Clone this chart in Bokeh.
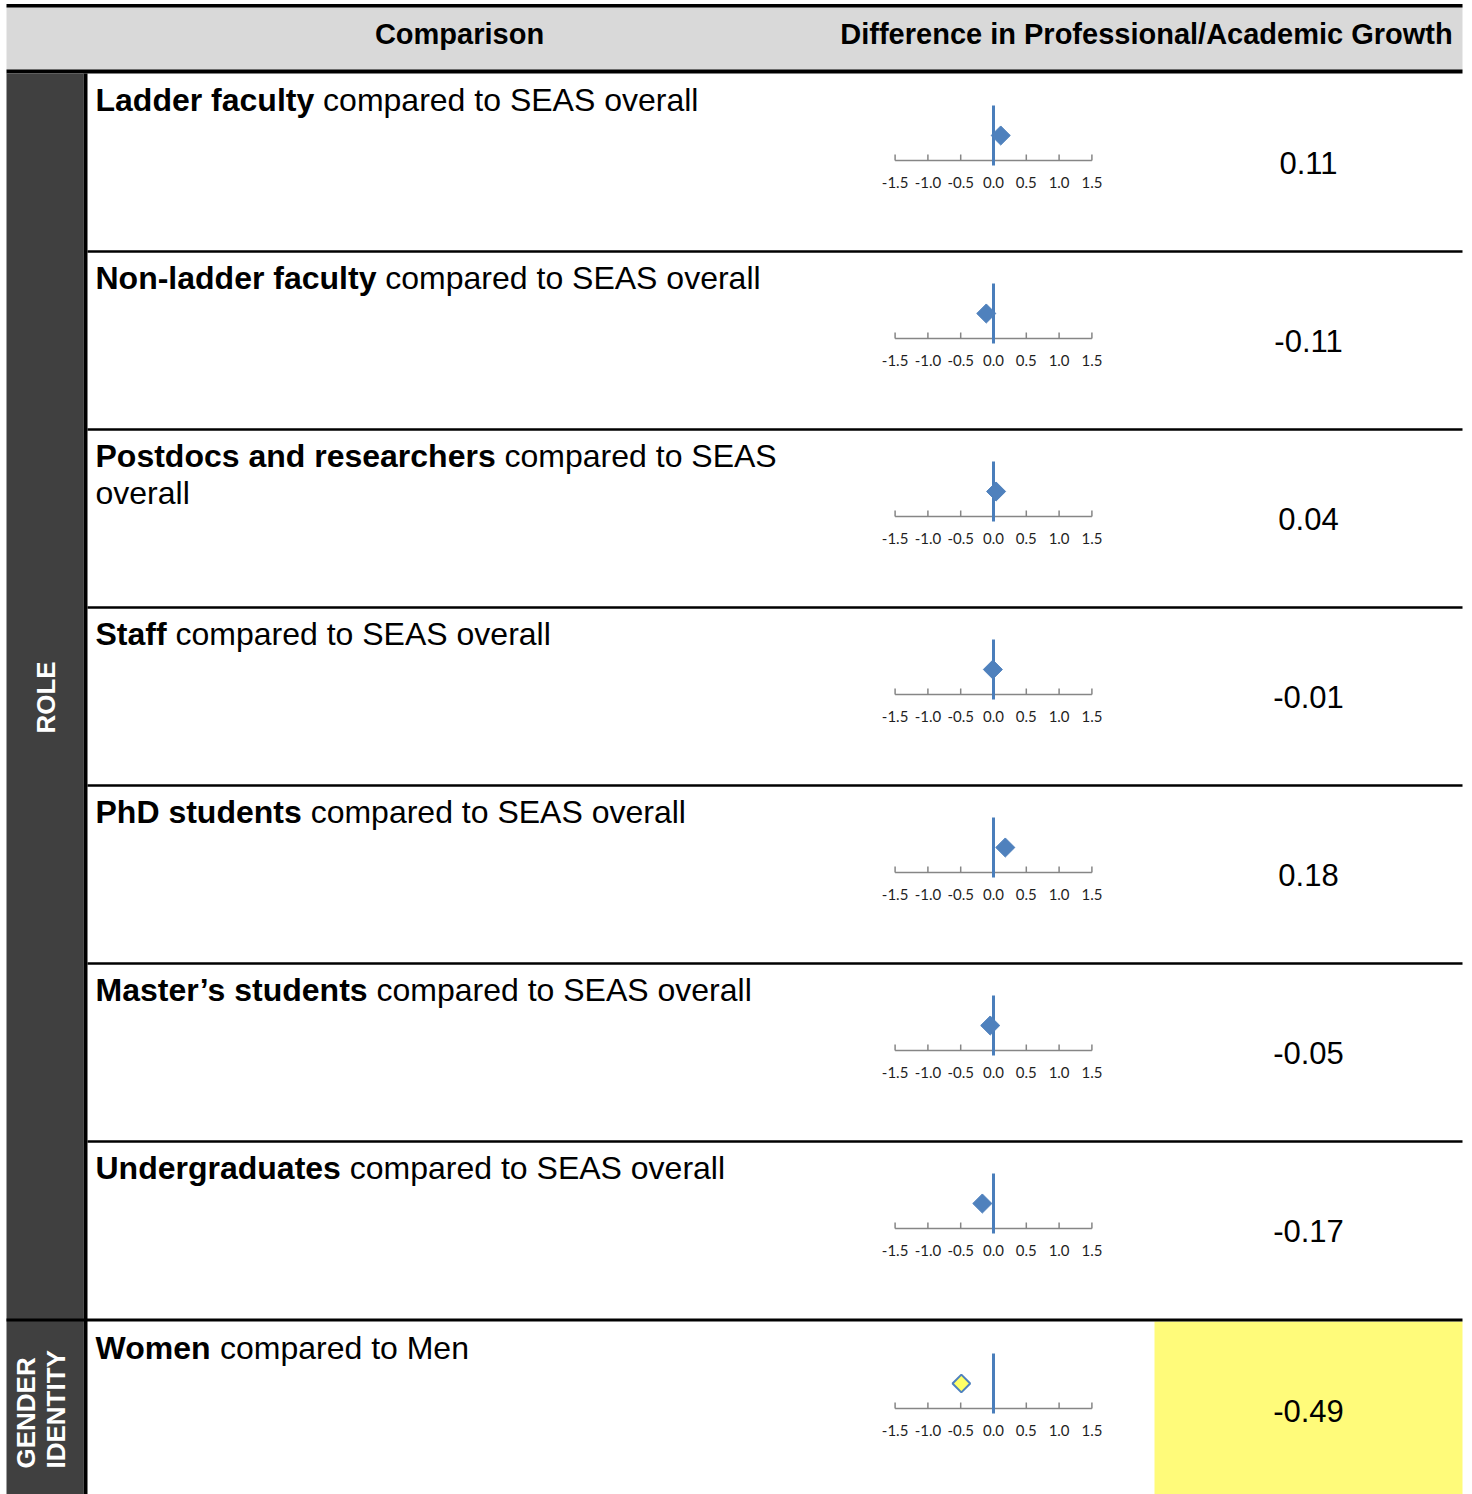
import math
from bokeh.plotting import figure
from bokeh.models import Range1d, ColumnDataSource
from bokeh.embed import file_html
from bokeh.resources import INLINE
from bokeh.core.properties import value

# ---------------- data ----------------
header_left = "Comparison"
header_right = "Difference in Professional/Academic Growth"
bold_labels = ["Ladder faculty", "Non-ladder faculty", "Postdocs and researchers",
               "Staff", "PhD students", "Master\u2019s students", "Undergraduates", "Women"]
rest_labels = ["compared to SEAS overall", "compared to SEAS overall", "compared to SEAS",
               "compared to SEAS overall", "compared to SEAS overall",
               "compared to SEAS overall", "compared to SEAS overall", "compared to Men"]
second_lines = ["", "", "overall", "", "", "", "", ""]
differences = [0.11, -0.11, 0.04, -0.01, 0.18, -0.05, -0.17, -0.49]
highlighted = [False, False, False, False, False, False, False, True]
group_names = ["ROLE", "GENDER\nIDENTITY"]
group_sizes = [7, 1]
tick_values = [-1.5, -1.0, -0.5, 0.0, 0.5, 1.0, 1.5]
tick_labels = ["-1.5", "-1.0", "-0.5", "0.0", "0.5", "1.0", "1.5"]

# ---------------- layout constants ----------------
W, H = 1472, 1494
X0, Y0 = 0, 0
LEFT, RIGHT = 6, 1462
ROW_TOPS = [73, 251, 429, 607, 785, 963, 1141, 1321]
ROW_BOTTOM = 1494
ZERO_X = 993.0
PX_PER_UNIT = 65.6
LABEL_X = 95
LABEL_FS = 32
VALUE_X = 1308
FONT = "Liberation Sans"

# Arial/Liberation Sans Bold advance widths (1/1000 em)
BOLD_W = {" ": 278, "-": 333, "\u2019": 278, "A": 722, "D": 722, "L": 611, "M": 833,
          "N": 722, "P": 667, "S": 667, "U": 722, "W": 944,
          "a": 556, "b": 611, "c": 556, "d": 611, "e": 556, "f": 333, "g": 611,
          "h": 611, "i": 278, "k": 556, "l": 278, "m": 889, "n": 611, "o": 611,
          "p": 611, "r": 389, "s": 556, "t": 333, "u": 611, "w": 778, "y": 556}


def bold_width(s, fs):
    return sum(BOLD_W.get(c, 600) for c in s) * fs / 1000.0


p = figure(width=W, height=H, x_range=Range1d(X0, X0 + W), y_range=Range1d(Y0 + H, Y0),
           output_backend="svg", toolbar_location=None, min_border=0,
           x_axis_type=None, y_axis_type=None, outline_line_color=None)
p.background_fill_color = "white"
p.border_fill_color = "white"
p.extra_x_ranges = {"diff": Range1d(start=(X0 - ZERO_X) / PX_PER_UNIT,
                                    end=(X0 + W - ZERO_X) / PX_PER_UNIT)}

# ---------------- header ----------------
p.quad(left=LEFT, right=RIGHT, top=6, bottom=70, fill_color="#D9D9D9", line_color=None)
p.quad(left=LEFT, right=RIGHT, top=3.5, bottom=7, fill_color="black", line_color=None)
p.quad(left=LEFT, right=RIGHT, top=69, bottom=73, fill_color="black", line_color=None)
p.text(x=[459, 1146], y=[33.5, 33.5], text=[header_left, header_right],
       text_font=value(FONT), text_font_size="29px", text_font_style="bold",
       text_align="center", text_baseline="middle", text_color="black")

# ---------------- highlighted value cells ----------------
n = len(differences)
row_bottoms = ROW_TOPS[1:] + [ROW_BOTTOM]
hl = [i for i in range(n) if highlighted[i]]
p.quad(left=[1154] * len(hl), right=[RIGHT] * len(hl),
       top=[ROW_TOPS[i] for i in hl], bottom=[row_bottoms[i] for i in hl],
       fill_color="#FFFB7A", line_color=None)

# ---------------- group column ----------------
p.quad(left=LEFT, right=83, top=73, bottom=ROW_BOTTOM, fill_color="#404040", line_color=None)
p.quad(left=83, right=87, top=73, bottom=ROW_BOTTOM, fill_color="black", line_color=None)

# row separators
start = 0
sep_thin = []
sep_group = []
for gi, gs in enumerate(group_sizes):
    for k in range(gs):
        i = start + k
        if i == 0:
            continue
        if k == 0:
            sep_group.append(ROW_TOPS[i])
        else:
            sep_thin.append(ROW_TOPS[i])
    start += gs
p.quad(left=[87] * len(sep_thin), right=[RIGHT] * len(sep_thin),
       top=[y - 1.3 for y in sep_thin], bottom=[y + 1.3 for y in sep_thin],
       fill_color="black", line_color=None)
p.quad(left=[LEFT] * len(sep_group), right=[RIGHT] * len(sep_group),
       top=[y - 3 for y in sep_group], bottom=[y for y in sep_group],
       fill_color="black", line_color=None)

# group labels (rotated)
start = 0
for gi, gs in enumerate(group_sizes):
    top = ROW_TOPS[start] if start > 0 else 73
    bot = row_bottoms[start + gs - 1]
    lines = group_names[gi].split("\n")
    if len(lines) == 1:
        p.text(x=[45], y=[(top + bot) / 2], text=lines, angle=math.pi / 2,
               text_font=value(FONT), text_font_size="26px", text_font_style="bold",
               text_color="white", text_align="center", text_baseline="middle")
    else:
        xs = [25 + 30 * j for j in range(len(lines))]
        p.text(x=xs, y=[1468] * len(lines), text=lines, angle=math.pi / 2,
               text_font=value(FONT), text_font_size="26px", text_font_style="bold",
               text_color="white", text_align="left", text_baseline="middle")
    start += gs

# ---------------- row labels ----------------
base = [t + 26.5 for t in ROW_TOPS]
p.text(x=[LABEL_X] * n, y=base, text=bold_labels, text_font=value(FONT),
       text_font_size=f"{LABEL_FS}px", text_font_style="bold", text_color="black",
       text_align="left", text_baseline="alphabetic")
rest_x = [LABEL_X + bold_width(b + " ", LABEL_FS) for b in bold_labels]
p.text(x=rest_x, y=base, text=rest_labels, text_font=value(FONT),
       text_font_size=f"{LABEL_FS}px", text_color="black",
       text_align="left", text_baseline="alphabetic")
l2 = [i for i in range(n) if second_lines[i]]
p.text(x=[LABEL_X] * len(l2), y=[base[i] + 37 for i in l2],
       text=[second_lines[i] for i in l2], text_font=value(FONT),
       text_font_size=f"{LABEL_FS}px", text_color="black",
       text_align="left", text_baseline="alphabetic")

# ---------------- mini charts ----------------
axis_y = [t + 87 for t in ROW_TOPS]
p.segment(x0=[tick_values[0]] * n, x1=[tick_values[-1]] * n, y0=axis_y, y1=axis_y,
          x_range_name="diff", line_color="#868686", line_width=1.5)
tx, ty0, ty1, tl_x, tl_y, tl_t = [], [], [], [], [], []
for ay in axis_y:
    for tv, tt in zip(tick_values, tick_labels):
        tx.append(tv); ty0.append(ay); ty1.append(ay - 6)
        tl_x.append(tv); tl_y.append(ay + 22); tl_t.append(tt)
p.segment(x0=tx, x1=tx, y0=ty0, y1=ty1, x_range_name="diff",
          line_color="#868686", line_width=1.5)
p.text(x=tl_x, y=tl_y, text=tl_t, x_range_name="diff", text_font=value("Lato"),
       text_font_size="15px", text_color="#1F1F1F", text_align="center",
       text_baseline="middle")
p.segment(x0=[0] * n, x1=[0] * n, y0=[t + 32 for t in ROW_TOPS],
          y1=[t + 92 for t in ROW_TOPS], x_range_name="diff",
          line_color="#4A7EBB", line_width=3)

src = ColumnDataSource(dict(
    x=differences,
    y=[t + 62 for t in ROW_TOPS],
    fill=["#FFFF66" if h else "#4F81BD" for h in highlighted],
    line=["#4F81BD" for h in highlighted],
    lw=[2 if h else 1 for h in highlighted],
    size=[12.5 if h else 13.5 for h in highlighted],
))
p.scatter(x="x", y="y", source=src, marker="square", angle=math.pi / 4,
          size="size", fill_color="fill", line_color="line", line_width="lw",
          x_range_name="diff")

# ---------------- values ----------------
p.text(x=[VALUE_X] * n, y=[t + 89.5 for t in ROW_TOPS],
       text=[f"{v:.2f}" for v in differences], text_font=value(FONT),
       text_font_size="31px", text_color="black", text_align="center",
       text_baseline="middle")

open("out.html", "w").write(file_html(p, INLINE))
